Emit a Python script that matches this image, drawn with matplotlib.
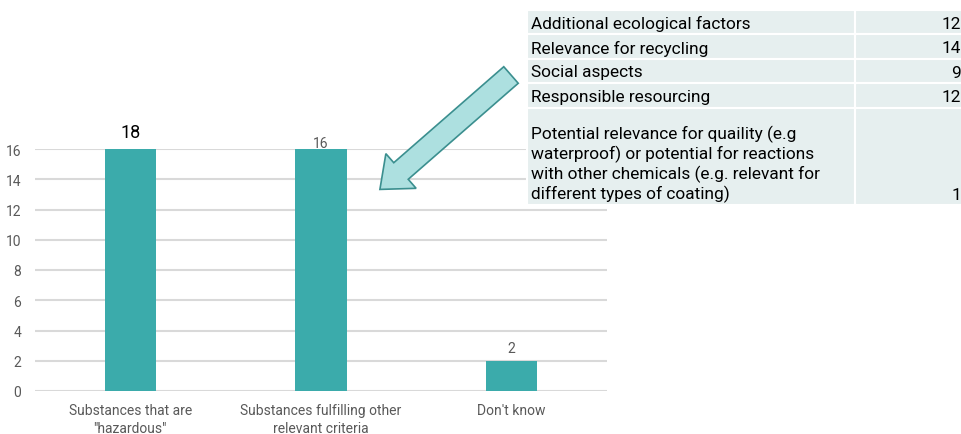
import matplotlib.pyplot as plt
from matplotlib.patches import Rectangle, FancyArrow

categories = ["Substances that are\n\"hazardous\"",
              "Substances fulfilling other\nrelevant criteria",
              "Don't know"]
counts = [18, 16, 2]

table_labels = [
    "Additional ecological factors",
    "Relevance for recycling",
    "Social aspects",
    "Responsible resourcing",
    "Potential relevance for quaility (e.g\nwaterproof) or potential for reactions\nwith other chemicals (e.g. relevant for\ndifferent types of coating)",
]
table_values = [12, 14, 9, 12, 1]

BAR = "#3BABAB"
GRID = "#D9D9D9"
TXT = "#595959"

plt.rcParams["font.family"] = ["Roboto", "DejaVu Sans"]

W, H = 962, 435
fig = plt.figure(figsize=(W / 100, H / 100), dpi=100)

ax = fig.add_axes([35 / W, 1 - 392 / H, (607 - 35) / W, (392 - 150) / H])
ymax = 16
x = list(range(len(categories)))
ax.bar(x, counts, width=0.27, color=BAR, zorder=3)
ax.set_ylim(0, ymax)
ax.set_xlim(-0.5, len(categories) - 0.5)
ax.set_yticks(range(0, ymax + 1, 2))
ax.set_xticks(x)
ax.set_xticklabels(categories, fontsize=10, color=TXT, linespacing=1.35)
ax.tick_params(axis="y", length=0, pad=10, labelsize=10, labelcolor=TXT)
ax.tick_params(axis="x", length=0, pad=9)
ax.grid(axis="y", color=GRID, linewidth=1.5, zorder=0)
for s in ax.spines.values():
    s.set_visible(False)

for i, v in enumerate(counts):
    y = min(v, ymax)
    if i == 0:
        ax.annotate(str(v), (i, y), xytext=(0, 6), textcoords="offset points",
                    ha="center", va="bottom", fontsize=13, color="black",
                    annotation_clip=False)
    elif v >= ymax:
        ax.annotate(str(v), (i, y), xytext=(0, -1), textcoords="offset points",
                    ha="center", va="bottom", fontsize=10, color=TXT,
                    annotation_clip=False, zorder=5)
    else:
        ax.annotate(str(v), (i, y), xytext=(0, 4), textcoords="offset points",
                    ha="center", va="bottom", fontsize=10, color=TXT,
                    annotation_clip=False, zorder=5)

# overlay in pixel coordinates for the table and the arrow
ov = fig.add_axes([0, 0, 1, 1], zorder=10)
ov.set_xlim(0, W)
ov.set_ylim(H, 0)
ov.axis("off")
ov.patch.set_alpha(0)

tx0, tx1, tx2 = 527, 855, 962
line_h = 24.4
top = 11
for lab, val in zip(table_labels, table_values):
    n = lab.count("\n") + 1
    h = line_h * n
    ov.add_patch(Rectangle((tx0, top), tx1 - tx0, h, facecolor="#E6EFEF",
                           edgecolor="white", linewidth=1.5))
    ov.add_patch(Rectangle((tx1, top), tx2 - tx1, h, facecolor="#E6EFEF",
                           edgecolor="white", linewidth=1.5))
    if n == 1:
        ov.text(tx0 + 4, top + h / 2 + 1, lab, ha="left", va="center",
                fontsize=12.4, color="black")
        ov.text(tx2 - 1, top + h / 2 + 1, str(val), ha="right", va="center",
                fontsize=12.4, color="black")
    else:
        ov.text(tx0 + 4, top + h - 3, lab, ha="left", va="bottom",
                fontsize=12.4, color="black", linespacing=1.2)
        ov.text(tx2 - 1, top + h - 3, str(val), ha="right", va="bottom",
                fontsize=12.4, color="black")
    top += h

ov.add_patch(FancyArrow(511, 76, -110, 96, width=22, head_width=46,
                        head_length=28, length_includes_head=False,
                        facecolor="#ADE0E0", edgecolor="#3B8F8F", linewidth=1.2))

fig.savefig("out.png", dpi=100)
